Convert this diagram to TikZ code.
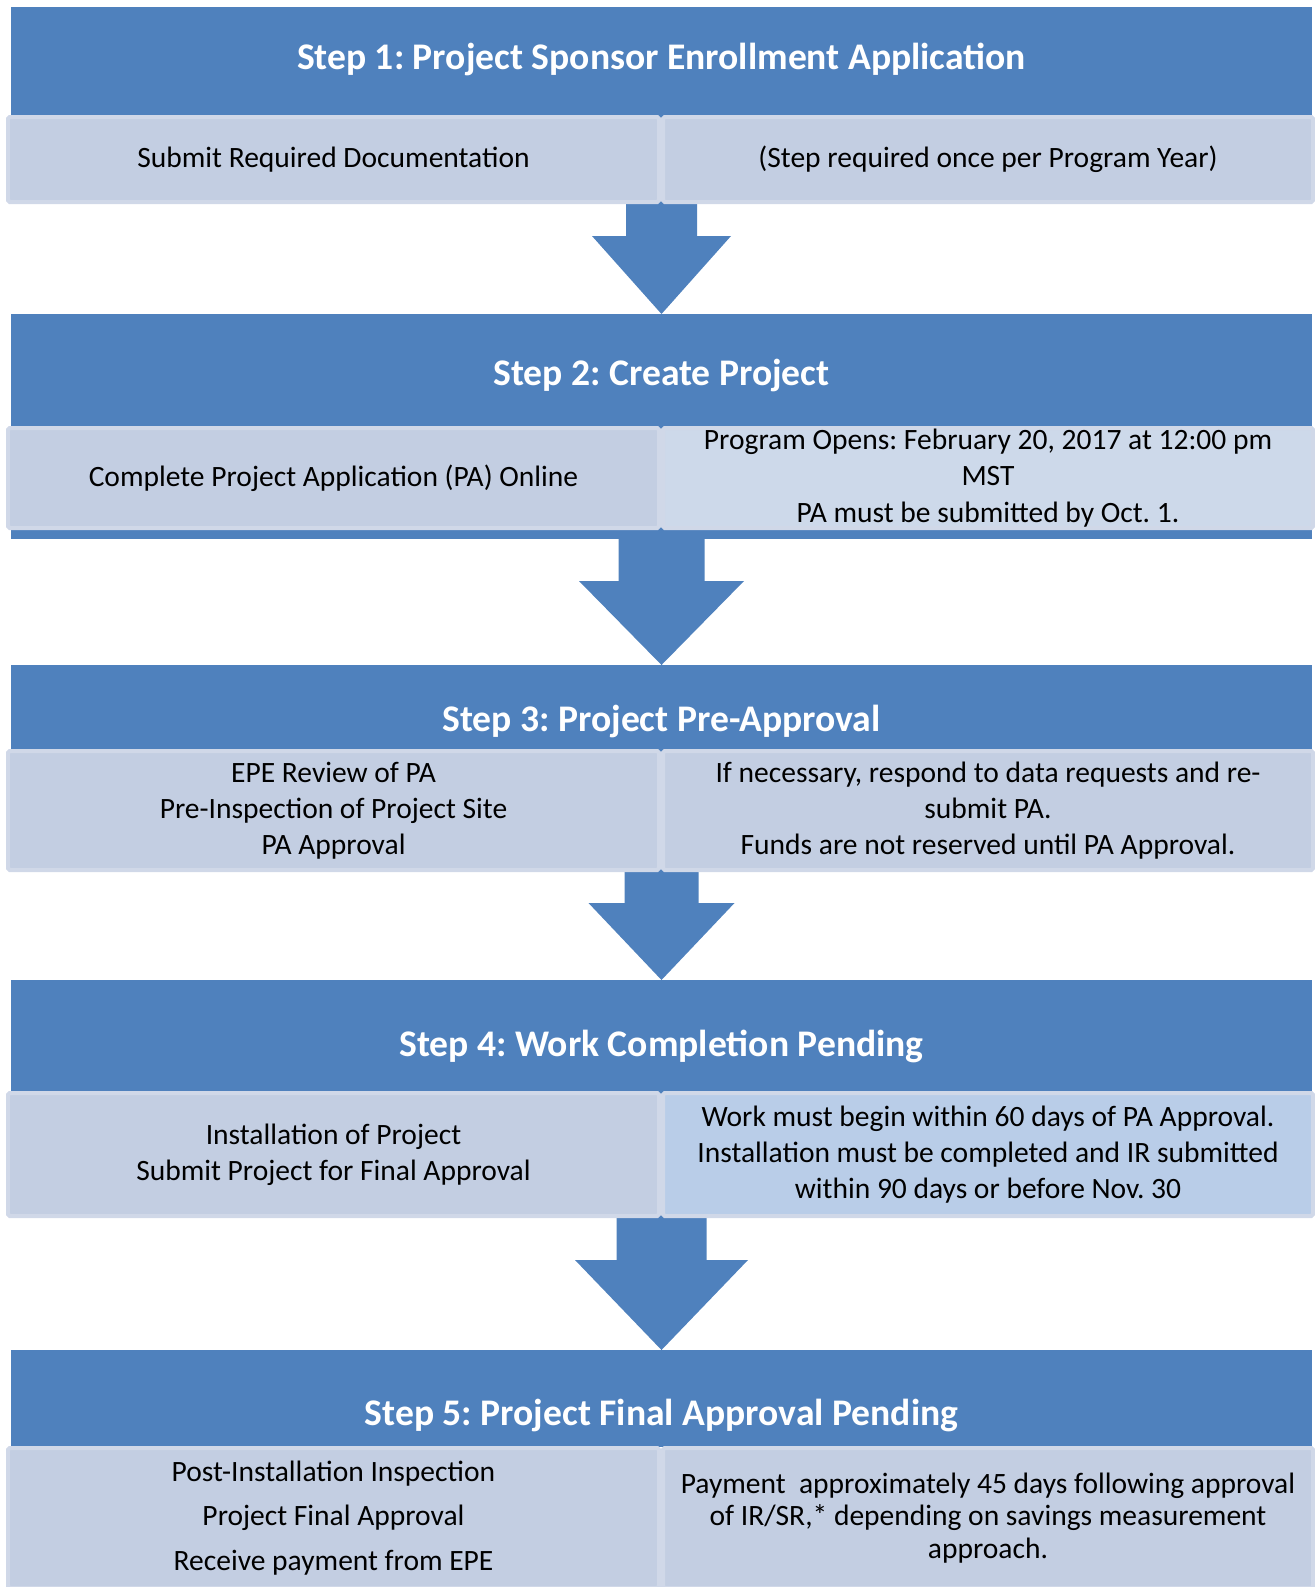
\documentclass[tikz,border=0pt]{standalone}
\usepackage{fontspec}
\setmainfont{Carlito}
\usetikzlibrary{calc}
\frenchspacing

\definecolor{stepblue}{HTML}{4F81BD}
\definecolor{cellgray}{HTML}{C3CEE2}
\definecolor{celledge}{HTML}{D0D8E8}
\definecolor{celllight}{HTML}{CDD9EA}
\definecolor{cellblue}{HTML}{B9CDE8}

\newcommand{\downblock}[5]{%
  \fill[stepblue] ($(#1)+(-#3,0)$) -- ($(#1)+(#3,0)$) -- ($(#2)+(#3,-#5)$)
    -- ($(#2)+(#4,-#5)$) -- (#2) -- ($(#2)+(-#4,-#5)$) -- ($(#2)+(-#3,-#5)$) -- cycle;}

\tikzset{
  stepband/.style 2 args={fill=stepblue, anchor=north west, inner sep=0pt, outer sep=0pt,
    minimum width=#1*0.02cm, minimum height=#2*0.02cm},
  stepcell/.style 2 args={fill=cellgray, draw=celledge, line width=0.08cm, rounded corners=1pt,
    anchor=north west, inner sep=0pt, align=center, font=\fontsize{16.8}{20.6}\selectfont,
    minimum width=#1*0.02cm, minimum height=#2*0.02cm},
  steptitle/.style={text=white, font=\fontsize{21.4}{25}\selectfont\bfseries}
}

\begin{document}
\begin{tikzpicture}[x=0.02cm, y=-0.02cm]
  \useasboundingbox (0,0) rectangle (1315,1587);

  \node[stepband={1301}{108}] (b1) at (11,7) {};
  \node[stepband={1301}{225}] (b2) at (11,314) {};
  \node[stepband={1301}{84}] (b3) at (11,665) {};
  \node[stepband={1301}{111}] (b4) at (11,980) {};
  \node[stepband={1301}{97}] (b5) at (11,1350) {};

  \node[steptitle] (t1) at (661.5,59) {Step 1: Project Sponsor Enrollment Application};
  \node[steptitle] (t2) at (661.5,375) {Step 2: Create Project};
  \node[steptitle] (t3) at (661.5,721.5) {Step 3: Project Pre-Approval};
  \node[steptitle] (t4) at (661.5,1046.5) {Step 4: Work Completion Pending};
  \node[steptitle] (t5) at (661.5,1415.5) {Step 5: Project Final Approval Pending};

  \downblock{b1.south}{b2.north}{35.5}{69.5}{78}
  \downblock{b2.south}{b3.north}{43}{82.5}{84}
  \downblock{b3.south}{b4.north}{37}{73}{77}
  \downblock{b4.south}{b5.north}{45}{86.5}{90}

  \node[stepcell={651}{85}] (l1) at (6,115) {Submit Required Documentation};
  \node[stepcell={650}{85}] (r1) at (661,115) {(Step required once per Program Year)};

  \node[stepcell={651}{100}] (l2) at (6,426) {Complete Project Application (PA) Online};
  \node[stepcell={650}{100}, fill=celllight] (r2) at (661,426)
    {Program Opens: February 20, 2017 at 12:00 pm\\MST\\PA must be submitted by Oct. 1.};

  \node[stepcell={651}{119}] (l3) at (6,749)
    {EPE Review of PA\\Pre-Inspection of Project Site\\PA Approval};
  \node[stepcell={650}{119}] (r3) at (661,749)
    {If necessary, respond to data requests and re-\\submit PA.\\Funds are not reserved until PA Approval.};

  \node[stepcell={651}{123}] (l4) at (6,1091)
    {Installation of Project\\Submit Project for Final Approval};
  \node[stepcell={650}{123}, fill=cellblue] (r4) at (661,1091)
    {Work must begin within 60 days of PA Approval.\\Installation must be completed and IR submitted\\within 90 days or before Nov. 30};

  \node[stepcell={651}{140}, font=\fontsize{16.8}{25.5}\selectfont] (l5) at (6,1446)
    {Post-Installation Inspection\\Project Final Approval\\Receive payment from EPE};
  \node[stepcell={650}{140}, font=\fontsize{16.8}{18.4}\selectfont] (r5) at (661,1446)
    {Payment~ approximately 45 days following approval\\of IR/SR,* depending on savings measurement\\approach.};
\end{tikzpicture}
\end{document}
